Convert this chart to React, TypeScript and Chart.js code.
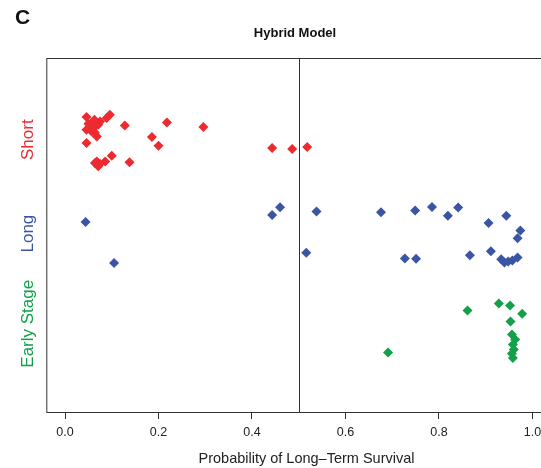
import { useEffect, useRef } from "react";
import { Chart, registerables } from "chart.js";

Chart.register(...registerables);

const FONT = "'Liberation Sans', Arial, Helvetica, sans-serif";

// y positions: Short = 3, Long = 2, Early Stage = 1 (jittered values)
const categoryNames = ["Early Stage", "Long", "Short"];
const categoryValues = [1, 2, 3];
const categoryLabelAt = [1.04, 2.0, 3.0];
const categoryColors = ["#12a04b", "#3b55a5", "#ec2a30"];

const xTicks = [0, 0.2, 0.4, 0.6, 0.8, 1.0];
const xTitle = "Probability of Long\u2013Term Survival";
const chartTitle = "Hybrid Model";
const panelLetter = "C";

const shortX = [
  0.046, 0.096, 0.089, 0.075, 0.071, 0.054, 0.046, 0.057, 0.064, 0.068,
  0.061, 0.128, 0.218, 0.296, 0.186, 0.2, 0.046, 0.1, 0.068, 0.075,
  0.086, 0.071, 0.064, 0.138, 0.443, 0.486, 0.518, 0.05, 0.063,
];
const shortY = [
  3.241, 3.266, 3.231, 3.195, 3.16, 3.16, 3.106, 3.088, 3.074, 3.035,
  3.124, 3.152, 3.184, 3.135, 3.029, 2.936, 2.965, 2.83, 2.769, 2.745,
  2.769, 2.716, 2.752, 2.759, 2.912, 2.901, 2.922, 3.17, 3.213,
];

const longX = [
  0.044, 0.105, 0.443, 0.46, 0.538, 0.516, 0.676, 0.749, 0.785, 0.819,
  0.841, 0.906, 0.944, 0.974, 0.968, 0.727, 0.751, 0.866, 0.911, 0.933,
  0.94, 0.957, 0.968, 0.948,
];
const longY = [
  2.124, 1.688, 2.199, 2.28, 2.234, 1.795, 2.227, 2.245, 2.284, 2.191,
  2.277, 2.112, 2.191, 2.032, 1.95, 1.734, 1.731, 1.769, 1.812, 1.727,
  1.691, 1.713, 1.745, 1.702,
];

const earlyX = [
  0.861, 0.928, 0.952, 0.978, 0.953, 0.956, 0.963, 0.958, 0.96, 0.956,
  0.958, 0.691,
];
const earlyY = [
  1.181, 1.255, 1.234, 1.146, 1.064, 0.926, 0.872, 0.819, 0.766, 0.723,
  0.676, 0.734,
];

const cutoff = 0.5;

function pts(xs: number[], ys: number[]) {
  return xs.map((x, i) => ({ x, y: ys[i] }));
}

const framePlugin = {
  id: "framePlugin",
  afterDraw(chart: any) {
    const { ctx, chartArea, scales } = chart;
    const { left, right, top, bottom } = chartArea;
    ctx.save();
    ctx.strokeStyle = "#333";
    ctx.lineWidth = 1;
    ctx.strokeRect(left + 0.5, top + 0.5, right - left, bottom - top);
    const xc = Math.round(scales.x.getPixelForValue(cutoff)) + 0.5;
    ctx.beginPath();
    ctx.moveTo(xc, top);
    ctx.lineTo(xc, bottom);
    ctx.stroke();

    // y category labels
    ctx.font = `17px ${FONT}`;
    ctx.textAlign = "center";
    ctx.textBaseline = "alphabetic";
    categoryNames.forEach((name, i) => {
      const y = scales.y.getPixelForValue(categoryLabelAt[i]);
      ctx.save();
      ctx.translate(33, y);
      ctx.rotate(-Math.PI / 2);
      ctx.fillStyle = categoryColors[i];
      ctx.fillText(name, 0, 0);
      ctx.restore();
    });

    // x axis title
    ctx.fillStyle = "#222";
    ctx.font = `14.5px ${FONT}`;
    ctx.textAlign = "center";
    ctx.textBaseline = "middle";
    ctx.fillText(xTitle, 306.5, 459);

    // title
    ctx.fillStyle = "#111";
    ctx.font = `bold 13px ${FONT}`;
    ctx.fillText(chartTitle, 295, 33);

    // panel letter
    ctx.font = `bold 21px ${FONT}`;
    ctx.textAlign = "left";
    ctx.fillText(panelLetter, 15, 18);
    ctx.restore();
  },
};

export default function App() {
  const ref = useRef<HTMLCanvasElement | null>(null);

  useEffect(() => {
    document.body.style.overflow = "hidden";
    const canvas = ref.current;
    if (!canvas) return;
    const ds = (label: string, data: any[], color: string) => ({
      label,
      data,
      backgroundColor: color,
      borderWidth: 0,
      pointStyle: "rectRot" as const,
      pointRadius: 5,
    });
    const chart = new Chart(canvas, {
      type: "scatter",
      data: {
        datasets: [
          ds("Short", pts(shortX, shortY), categoryColors[2]),
          ds("Long", pts(longX, longY), categoryColors[1]),
          ds("Early Stage", pts(earlyX, earlyY), categoryColors[0]),
        ],
      },
      options: {
        animation: false,
        responsive: false,
        devicePixelRatio: 1,
        layout: { padding: { left: 46.3, right: 8.8, top: 58, bottom: 0 } },
        plugins: {
          legend: { display: false },
          tooltip: { enabled: false },
          title: { display: false },
        },
        scales: {
          x: {
            type: "linear",
            min: -0.04,
            max: 1.04,
            afterBuildTicks: (scale: any) => {
              scale.ticks = xTicks.map((v) => ({ value: v }));
            },
            afterFit: (scale: any) => {
              scale.height = 56;
            },
            border: { display: false },
            grid: {
              display: true,
              drawOnChartArea: false,
              drawTicks: true,
              tickLength: 7,
              color: "#333",
              lineWidth: 1,
            },
            ticks: {
              padding: 6,
              color: "#222",
              font: { family: FONT, size: 12.5 },
              maxRotation: 0,
              autoSkip: false,
              callback: (v: any) => Number(v).toFixed(1),
            },
            title: { display: false },
          },
          y: {
            type: "linear",
            display: false,
            min: 0.1,
            max: 3.87,
          },
        },
      },
      plugins: [framePlugin],
    });
    return () => chart.destroy();
  }, []);

  return (
    <div
      style={{
        position: "fixed",
        left: 0,
        top: 0,
        width: 541,
        height: 468,
        overflow: "hidden",
        background: "#fff",
      }}
    >
      <canvas ref={ref} width={560} height={468} style={{ display: "block" }} />
    </div>
  );
}
